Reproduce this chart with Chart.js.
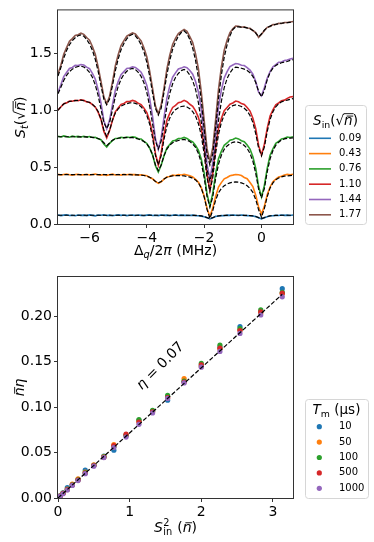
<!DOCTYPE html>
<html>
<head>
<meta charset="utf-8">
<script src="https://cdn.jsdelivr.net/npm/chart.js@4.4.0/dist/chart.umd.min.js"></script>
<style>
  html, body { margin: 0; padding: 0; background: #fff; }
  #top { position: absolute; left: 0; top: 0; }
  #bottom { position: absolute; left: 0; top: 262px; }
</style>
</head>
<body>
<canvas id="top" width="374" height="262"></canvas>
<canvas id="bottom" width="374" height="280"></canvas>
<script>
// ---- top panel: transmitted signal vs qubit detuning (MHz) ----
const detuning = [-7.1, -7.0, -6.9, -6.8, -6.7, -6.6, -6.5, -6.4, -6.3,
  -6.2, -6.1, -6.0, -5.9, -5.8, -5.7, -5.6, -5.5, -5.4, -5.3, -5.2, -5.1, -5.0, -4.9, -4.8, -4.7, -4.6, -4.5,
  -4.4, -4.3, -4.2, -4.1, -4.0, -3.9, -3.8, -3.7, -3.6, -3.5, -3.4, -3.3, -3.2, -3.1, -3.0, -2.9, -2.8, -2.7,
  -2.6, -2.5, -2.4, -2.3, -2.2, -2.1, -2.0, -1.9, -1.8, -1.7, -1.6, -1.5, -1.4, -1.3, -1.2, -1.1, -1.0, -0.9,
  -0.8, -0.7, -0.6, -0.5, -0.4, -0.3, -0.2, -0.1, 0.0, 0.1, 0.2, 0.3, 0.4, 0.5, 0.6, 0.7, 0.8, 0.9,
  1.0, 1.1];

const sinLabels = ['0.09', '0.43', '0.76', '1.10', '1.44', '1.77'];

// measured S_t
const st009 = [0.079, 0.074, 0.078, 0.081, 0.075, 0.077, 0.073, 0.079, 0.076,
  0.078, 0.074, 0.080, 0.076, 0.072, 0.079, 0.077, 0.081, 0.075, 0.078, 0.073, 0.077, 0.080, 0.076, 0.079, 0.074, 0.077, 0.078,
  0.075, 0.079, 0.076, 0.073, 0.078, 0.080, 0.075, 0.077, 0.074, 0.079, 0.076, 0.078, 0.073, 0.077, 0.080, 0.075, 0.078, 0.076,
  0.077, 0.075, 0.078, 0.074, 0.073, 0.069, 0.064, 0.056, 0.044, 0.054, 0.067, 0.070, 0.075, 0.073, 0.078, 0.076, 0.079, 0.077,
  0.075, 0.079, 0.076, 0.074, 0.072, 0.071, 0.065, 0.055, 0.046, 0.056, 0.064, 0.072, 0.073, 0.077, 0.075, 0.079, 0.076, 0.078,
  0.075, 0.079];
const st043 = [0.437, 0.431, 0.436, 0.440, 0.433, 0.429, 0.436, 0.438, 0.432,
  0.434, 0.438, 0.431, 0.436, 0.440, 0.433, 0.430, 0.435, 0.428, 0.434, 0.439, 0.432, 0.436, 0.430, 0.437, 0.433, 0.438, 0.435,
  0.436, 0.430, 0.433, 0.429, 0.424, 0.410, 0.398, 0.376, 0.358, 0.372, 0.394, 0.414, 0.418, 0.430, 0.427, 0.435, 0.431, 0.438,
  0.432, 0.425, 0.414, 0.394, 0.367, 0.320, 0.247, 0.136, 0.068, 0.140, 0.243, 0.325, 0.364, 0.398, 0.409, 0.425, 0.430, 0.436,
  0.433, 0.426, 0.410, 0.399, 0.366, 0.330, 0.254, 0.150, 0.088, 0.155, 0.258, 0.326, 0.372, 0.395, 0.414, 0.421, 0.432, 0.437,
  0.433, 0.438];
const st076 = [0.772, 0.766, 0.775, 0.769, 0.764, 0.773, 0.768, 0.771, 0.766,
  0.772, 0.765, 0.770, 0.762, 0.764, 0.750, 0.742, 0.705, 0.678, 0.710, 0.733, 0.753, 0.755, 0.763, 0.758, 0.766, 0.761, 0.767,
  0.763, 0.751, 0.748, 0.728, 0.709, 0.667, 0.609, 0.512, 0.458, 0.517, 0.601, 0.670, 0.700, 0.730, 0.737, 0.752, 0.753, 0.762,
  0.753, 0.735, 0.723, 0.691, 0.648, 0.571, 0.450, 0.265, 0.158, 0.270, 0.443, 0.574, 0.639, 0.693, 0.713, 0.737, 0.744, 0.757,
  0.749, 0.733, 0.724, 0.695, 0.659, 0.592, 0.490, 0.330, 0.238, 0.338, 0.489, 0.605, 0.662, 0.710, 0.727, 0.749, 0.754, 0.766,
  0.762, 0.768];
const st110 = [1.003, 1.030, 1.059, 1.066, 1.081, 1.080, 1.089, 1.085, 1.093,
  1.088, 1.074, 1.071, 1.050, 1.030, 0.984, 0.921, 0.815, 0.757, 0.822, 0.912, 0.987, 1.020, 1.053, 1.061, 1.077, 1.078, 1.088,
  1.080, 1.062, 1.051, 1.020, 0.981, 0.907, 0.794, 0.619, 0.518, 0.626, 0.788, 0.913, 0.975, 1.026, 1.045, 1.068, 1.074, 1.088,
  1.076, 1.054, 1.036, 0.996, 0.939, 0.839, 0.680, 0.438, 0.298, 0.444, 0.671, 0.841, 0.929, 0.997, 1.026, 1.055, 1.065, 1.082,
  1.076, 1.060, 1.052, 1.025, 0.994, 0.931, 0.839, 0.692, 0.608, 0.701, 0.842, 0.951, 1.004, 1.049, 1.065, 1.085, 1.090, 1.106,
  1.118, 1.121];
const st144 = [1.160, 1.226, 1.297, 1.333, 1.369, 1.378, 1.396, 1.394, 1.403,
  1.399, 1.381, 1.367, 1.325, 1.276, 1.183, 1.063, 0.909, 0.838, 0.915, 1.049, 1.177, 1.255, 1.315, 1.341, 1.368, 1.373, 1.383,
  1.378, 1.358, 1.336, 1.286, 1.220, 1.101, 0.945, 0.750, 0.658, 0.758, 0.939, 1.108, 1.214, 1.292, 1.330, 1.364, 1.372, 1.384,
  1.376, 1.351, 1.319, 1.254, 1.162, 1.003, 0.787, 0.525, 0.398, 0.535, 0.793, 1.027, 1.179, 1.286, 1.341, 1.386, 1.400, 1.412,
  1.409, 1.397, 1.395, 1.376, 1.354, 1.318, 1.255, 1.160, 1.128, 1.200, 1.283, 1.341, 1.384, 1.403, 1.423, 1.426, 1.438, 1.443,
  1.452, 1.458];
const st177 = [1.323, 1.398, 1.493, 1.553, 1.608, 1.632, 1.659, 1.666, 1.679,
  1.669, 1.641, 1.618, 1.561, 1.494, 1.383, 1.255, 1.119, 1.058, 1.125, 1.249, 1.392, 1.490, 1.571, 1.614, 1.653, 1.668, 1.683,
  1.672, 1.642, 1.612, 1.549, 1.470, 1.343, 1.193, 1.038, 0.968, 1.047, 1.196, 1.365, 1.485, 1.580, 1.633, 1.676, 1.696, 1.713,
  1.696, 1.649, 1.597, 1.498, 1.365, 1.162, 0.913, 0.663, 0.548, 0.672, 0.916, 1.184, 1.380, 1.529, 1.618, 1.684, 1.719, 1.742,
  1.741, 1.732, 1.736, 1.725, 1.723, 1.703, 1.685, 1.642, 1.671, 1.702, 1.731, 1.739, 1.755, 1.756, 1.767, 1.765, 1.774, 1.773,
  1.778, 1.782];

// model fits (dashed)
const fit009 = [0.077, 0.077, 0.077, 0.077, 0.077, 0.077, 0.077, 0.077, 0.077,
  0.077, 0.077, 0.077, 0.077, 0.077, 0.077, 0.077, 0.077, 0.077, 0.077, 0.077, 0.077, 0.077, 0.077, 0.077, 0.077, 0.077, 0.077,
  0.077, 0.077, 0.077, 0.077, 0.077, 0.077, 0.077, 0.077, 0.077, 0.077, 0.077, 0.077, 0.077, 0.077, 0.077, 0.077, 0.077, 0.077,
  0.077, 0.077, 0.076, 0.076, 0.074, 0.071, 0.066, 0.056, 0.047, 0.056, 0.066, 0.071, 0.074, 0.076, 0.076, 0.077, 0.077, 0.077,
  0.077, 0.077, 0.076, 0.076, 0.074, 0.071, 0.066, 0.056, 0.047, 0.056, 0.066, 0.071, 0.074, 0.076, 0.076, 0.077, 0.077, 0.077,
  0.077, 0.077];
const fit043 = [0.434, 0.434, 0.434, 0.434, 0.434, 0.434, 0.434, 0.434, 0.434,
  0.434, 0.434, 0.434, 0.434, 0.434, 0.434, 0.434, 0.434, 0.434, 0.434, 0.434, 0.434, 0.434, 0.434, 0.434, 0.434, 0.434, 0.433,
  0.433, 0.432, 0.430, 0.427, 0.421, 0.412, 0.396, 0.374, 0.362, 0.374, 0.396, 0.411, 0.419, 0.424, 0.426, 0.426, 0.425, 0.423,
  0.419, 0.413, 0.403, 0.388, 0.362, 0.316, 0.238, 0.130, 0.050, 0.118, 0.210, 0.275, 0.313, 0.336, 0.352, 0.362, 0.368, 0.370,
  0.368, 0.362, 0.352, 0.336, 0.313, 0.278, 0.215, 0.125, 0.060, 0.135, 0.240, 0.318, 0.362, 0.390, 0.405, 0.415, 0.421, 0.424,
  0.426, 0.428];
const fit076 = [0.768, 0.768, 0.768, 0.768, 0.768, 0.768, 0.768, 0.767, 0.767,
  0.766, 0.766, 0.764, 0.763, 0.759, 0.753, 0.741, 0.715, 0.690, 0.713, 0.738, 0.749, 0.755, 0.758, 0.760, 0.761, 0.761, 0.760,
  0.754, 0.748, 0.739, 0.726, 0.703, 0.669, 0.608, 0.522, 0.470, 0.520, 0.602, 0.660, 0.693, 0.715, 0.727, 0.735, 0.741, 0.744,
  0.737, 0.726, 0.705, 0.674, 0.620, 0.538, 0.409, 0.242, 0.150, 0.239, 0.401, 0.526, 0.605, 0.657, 0.687, 0.707, 0.719, 0.724,
  0.719, 0.709, 0.691, 0.666, 0.621, 0.553, 0.445, 0.307, 0.230, 0.311, 0.459, 0.573, 0.646, 0.693, 0.720, 0.739, 0.749, 0.753,
  0.756, 0.758];
const fit110 = [1.000, 1.033, 1.056, 1.069, 1.078, 1.083, 1.086, 1.088, 1.090,
  1.085, 1.078, 1.069, 1.055, 1.029, 0.991, 0.924, 0.828, 0.770, 0.824, 0.914, 0.977, 1.013, 1.037, 1.050, 1.059, 1.066, 1.068,
  1.062, 1.051, 1.032, 1.003, 0.954, 0.878, 0.759, 0.605, 0.520, 0.601, 0.747, 0.860, 0.932, 0.979, 1.006, 1.024, 1.034, 1.038,
  1.030, 1.015, 0.989, 0.950, 0.882, 0.779, 0.616, 0.406, 0.290, 0.408, 0.621, 0.787, 0.892, 0.960, 1.000, 1.026, 1.042, 1.048,
  1.043, 1.034, 1.018, 0.995, 0.955, 0.893, 0.795, 0.669, 0.600, 0.676, 0.814, 0.920, 0.988, 1.032, 1.058, 1.075, 1.085, 1.090,
  1.098, 1.104];
const fit144 = [1.147, 1.204, 1.263, 1.309, 1.341, 1.363, 1.377, 1.386, 1.390,
  1.382, 1.363, 1.335, 1.291, 1.225, 1.132, 1.011, 0.895, 0.840, 0.893, 1.004, 1.121, 1.211, 1.275, 1.317, 1.344, 1.362, 1.370,
  1.359, 1.335, 1.299, 1.242, 1.157, 1.036, 0.880, 0.731, 0.660, 0.730, 0.877, 1.031, 1.150, 1.234, 1.290, 1.325, 1.350, 1.360,
  1.345, 1.311, 1.262, 1.184, 1.066, 0.899, 0.684, 0.478, 0.380, 0.480, 0.690, 0.910, 1.080, 1.200, 1.280, 1.330, 1.365, 1.380,
  1.376, 1.371, 1.363, 1.351, 1.331, 1.299, 1.245, 1.167, 1.120, 1.176, 1.269, 1.334, 1.371, 1.396, 1.410, 1.419, 1.425, 1.430,
  1.440, 1.446];
const fit177 = [1.302, 1.377, 1.460, 1.527, 1.578, 1.614, 1.639, 1.657, 1.665,
  1.653, 1.625, 1.585, 1.530, 1.450, 1.345, 1.216, 1.099, 1.050, 1.100, 1.217, 1.348, 1.453, 1.534, 1.589, 1.630, 1.658, 1.670,
  1.656, 1.624, 1.578, 1.514, 1.422, 1.301, 1.152, 1.017, 0.960, 1.019, 1.160, 1.315, 1.441, 1.537, 1.604, 1.652, 1.685, 1.700,
  1.676, 1.623, 1.547, 1.440, 1.287, 1.086, 0.839, 0.614, 0.520, 0.617, 0.848, 1.103, 1.310, 1.468, 1.577, 1.656, 1.711, 1.735,
  1.735, 1.733, 1.730, 1.726, 1.718, 1.704, 1.680, 1.648, 1.672, 1.706, 1.728, 1.742, 1.751, 1.758, 1.763, 1.767, 1.770, 1.772,
  1.775, 1.778];

// ---- bottom panel: nbar*eta vs S_in^2 ----
const sinSquared = [0.01, 0.03, 0.07, 0.13, 0.20, 0.28, 0.38, 0.50, 0.64, 0.78,
  0.95, 1.13, 1.32, 1.53, 1.76, 2.00, 2.26, 2.54, 2.83, 3.13];
const tmLabels = ['10', '50', '100', '500', '1000'];
const neta10 = [0.0010, 0.0025, 0.0058, 0.0115, 0.0146, 0.0205, 0.0308, 0.0360, 0.0462, 0.0525,
  0.0685, 0.0855, 0.0955, 0.1075, 0.1280, 0.1455, 0.1655, 0.1885, 0.2045, 0.2302];
const neta50 = [0.0008, 0.0020, 0.0052, 0.0098, 0.0152, 0.0210, 0.0285, 0.0365, 0.0455, 0.0588,
  0.0690, 0.0845, 0.0950, 0.1100, 0.1312, 0.1445, 0.1640, 0.1850, 0.2035, 0.2245];
const neta100 = [0.0009, 0.0022, 0.0054, 0.0095, 0.0145, 0.0200, 0.0278, 0.0358, 0.0452, 0.0565,
  0.0695, 0.0862, 0.0965, 0.1128, 0.1285, 0.1480, 0.1680, 0.1862, 0.2068, 0.2262];
const neta500 = [0.0007, 0.0021, 0.0050, 0.0093, 0.0143, 0.0198, 0.0275, 0.0356, 0.0448, 0.0575,
  0.0702, 0.0835, 0.0948, 0.1105, 0.1275, 0.1465, 0.1648, 0.1842, 0.2048, 0.2252];
const neta1000 = [0.0006, 0.0019, 0.0047, 0.0088, 0.0138, 0.0192, 0.0268, 0.0350, 0.0444, 0.0555,
  0.0670, 0.0810, 0.0935, 0.1095, 0.1265, 0.1438, 0.1612, 0.1810, 0.2012, 0.2212];
const slopeX = [0, 3.13];
const slopeY = [0, 0.224];
const etaLabel = 'η = 0.07';

const colors = ['#1f77b4', '#ff7f0e', '#2ca02c', '#d62728', '#9467bd', '#8c564b'];
const FONT = '"DejaVu Sans", sans-serif';

// ---- mixed italic / subscript text on canvas ----
function partFont(p, size) {
  const s = (p.sub || p.sup) ? size * 0.7 : size;
  return (p.it ? 'italic ' : '') + s.toFixed(1) + 'px ' + FONT;
}
function partWidth(ctx, p, size) {
  if (p.ss) {
    ctx.font = partFont({ sub: true }, size);
    return Math.max(ctx.measureText(p.ss[0]).width, ctx.measureText(p.ss[1]).width) + 1;
  }
  ctx.font = partFont(p, size);
  return ctx.measureText(p.t).width;
}
function drawParts(ctx, parts, x, y, size, align) {
  let w = 0;
  parts.forEach(p => { w += partWidth(ctx, p, size); });
  let cx = align === 'center' ? x - w / 2 : x;
  ctx.textAlign = 'left';
  ctx.textBaseline = 'alphabetic';
  ctx.fillStyle = '#000';
  ctx.strokeStyle = '#000';
  parts.forEach(p => {
    const pw = partWidth(ctx, p, size);
    if (p.ss) {
      ctx.fillText(p.ss[0], cx + 0.5, y - size * 0.42);
      ctx.fillText(p.ss[1], cx + 0.5, y + size * 0.24);
    } else {
      const dy = p.sub ? size * 0.22 : p.sup ? -size * 0.42 : 0;
      ctx.fillText(p.t, cx, y + dy);
      ctx.lineWidth = 0.9;
      if (p.bar) {
        ctx.beginPath();
        ctx.moveTo(cx + pw * 0.3, y - size * 0.66);
        ctx.lineTo(cx + pw * 0.95 + 1, y - size * 0.66);
        ctx.stroke();
      }
      if (p.root) {
        ctx.beginPath();
        ctx.moveTo(cx - 0.5, y - size * 0.84);
        ctx.lineTo(cx + pw + 1, y - size * 0.84);
        ctx.stroke();
      }
    }
    cx += pw;
  });
}
function drawRotated(ctx, parts, x, y, size, angle) {
  ctx.save();
  ctx.translate(x, y);
  ctx.rotate(angle);
  drawParts(ctx, parts, 0, size * 0.35, size, 'center');
  ctx.restore();
}
const sqrtN = [{ t: '(' }, { t: '√' }, { t: 'n', it: true, bar: true, root: true }, { t: ')' }];

// box around the plot area, like the matplotlib spines
const framePlugin = {
  id: 'frame',
  afterDatasetsDraw(chart) {
    const { ctx, chartArea: a } = chart;
    ctx.save();
    ctx.strokeStyle = '#333';
    ctx.lineWidth = 1;
    ctx.strokeRect(a.left - 0.5, a.top - 0.5, a.right - a.left + 1, a.bottom - a.top + 1);
    ctx.restore();
  }
};

function legendBox(ctx, x0, y0, x1, y1) {
  ctx.save();
  ctx.beginPath();
  ctx.roundRect(x0 + 0.5, y0 + 0.5, x1 - x0, y1 - y0, 3);
  ctx.fillStyle = 'rgba(255,255,255,0.8)';
  ctx.fill();
  ctx.strokeStyle = '#d6d6d6';
  ctx.lineWidth = 1;
  ctx.stroke();
  ctx.restore();
}

function axisOpts(min, max, step, fmt, fitFn) {
  return {
    type: 'linear', min: min, max: max,
    afterFit: fitFn,
    border: { display: false },
    grid: { drawOnChartArea: false, drawTicks: true, tickLength: 4, color: '#333', tickColor: '#333' },
    ticks: {
      stepSize: step, includeBounds: false, maxRotation: 0, autoSkip: false,
      color: '#000', padding: 2, font: { family: FONT, size: 14 },
      callback: v => fmt(v)
    }
  };
}
const minus = s => s.replace('-', '\u2212');

// ---- top chart ----
const measured = [st009, st043, st076, st110, st144, st177];
const fits = [fit009, fit043, fit076, fit110, fit144, fit177];
const topSets = [];
measured.forEach((arr, i) => {
  topSets.push({
    label: sinLabels[i],
    data: detuning.map((x, k) => ({ x: x, y: arr[k] })),
    borderColor: colors[i], borderWidth: 1.6, pointRadius: 0, tension: 0,
    order: 20 - 2 * i
  });
  topSets.push({
    label: 'fit ' + sinLabels[i],
    data: detuning.map((x, k) => ({ x: x, y: fits[i][k] })),
    borderColor: '#000', borderWidth: 1.2, borderDash: [4.4, 2], pointRadius: 0, tension: 0,
    order: 19 - 2 * i
  });
});

const topText = {
  id: 'topText',
  afterDraw(chart) {
    const ctx = chart.ctx;
    const a = chart.chartArea;
    ctx.save();
    drawParts(ctx, [{ t: 'Δ' }, { t: 'q', it: true, sub: true }, { t: '/2' }, { t: 'π', it: true }, { t: ' (MHz)' }],
      (a.left + a.right) / 2, 255, 14, 'center');
    drawRotated(ctx, [{ t: 'S', it: true }, { t: 't', it: true, sub: true }].concat(sqrtN),
      20, (a.top + a.bottom) / 2, 14, -Math.PI / 2);
    // legend
    legendBox(ctx, 305, 105, 366, 224);
    drawParts(ctx, [{ t: 'S', it: true }, { t: 'in', sub: true }].concat(sqrtN), 335.5, 125, 13.5, 'center');
    sinLabels.forEach((lab, i) => {
      const y = 138.3 + i * 15.3;
      ctx.strokeStyle = colors[i];
      ctx.lineWidth = 1.6;
      ctx.beginPath();
      ctx.moveTo(309, y);
      ctx.lineTo(331, y);
      ctx.stroke();
      ctx.fillStyle = '#000';
      ctx.font = '10px ' + FONT;
      ctx.textBaseline = 'middle';
      ctx.textAlign = 'left';
      ctx.fillText(lab, 339, y);
    });
    ctx.restore();
  }
};

new Chart(document.getElementById('top'), {
  type: 'line',
  data: { datasets: topSets },
  options: {
    responsive: false, animation: false,
    layout: { padding: { left: 0, top: 4, right: 81, bottom: 0 } },
    plugins: { legend: { display: false }, tooltip: { enabled: false } },
    scales: {
      x: axisOpts(-7.1, 1.1, 2, v => minus(String(v)), s => { s.height = 38; }),
      y: axisOpts(0, 1.88, 0.5, v => v.toFixed(1), s => { s.width = 58; })
    }
  },
  plugins: [framePlugin, topText]
});

// ---- bottom chart ----
const netaSets = [neta10, neta50, neta100, neta500, neta1000];
const bottomSets = netaSets.map((arr, i) => ({
  type: 'scatter',
  label: tmLabels[i],
  data: sinSquared.map((x, k) => ({ x: x, y: arr[k] })),
  backgroundColor: colors[i], borderColor: colors[i],
  pointRadius: 2.6, pointBorderWidth: 0,
  order: 6 - i
}));
bottomSets.push({
  type: 'line',
  label: 'slope',
  data: slopeX.map((x, k) => ({ x: x, y: slopeY[k] })),
  borderColor: '#000', borderWidth: 1.2, borderDash: [4.4, 2], pointRadius: 0, tension: 0,
  order: 0
});

const bottomText = {
  id: 'bottomText',
  afterDraw(chart) {
    const ctx = chart.ctx;
    const a = chart.chartArea;
    ctx.save();
    drawParts(ctx, [{ t: 'S', it: true }, { ss: ['2', 'in'] }, { t: ' (' }, { t: 'n', it: true, bar: true }, { t: ')' }],
      (a.left + a.right) / 2, 270, 14, 'center');
    drawRotated(ctx, [{ t: 'n', it: true, bar: true }, { t: 'η', it: true }],
      19, (a.top + a.bottom) / 2, 14, -Math.PI / 2);
    // annotation along the fitted slope
    const px = chart.scales.x.getPixelForValue(1.42);
    const py = chart.scales.y.getPixelForValue(0.146);
    drawRotated(ctx, [{ t: 'η', it: true }, { t: etaLabel.slice(1) }], px, py, 14, -Math.PI / 4);
    // legend
    legendBox(ctx, 305, 137, 368, 236);
    drawParts(ctx, [{ t: 'T', it: true }, { t: 'm', sub: true }, { t: ' (μs)' }], 336.5, 152, 13.5, 'center');
    tmLabels.forEach((lab, i) => {
      const y = 164.7 + i * 15.4;
      ctx.fillStyle = colors[i];
      ctx.beginPath();
      ctx.arc(319.3, y, 2.6, 0, Math.PI * 2);
      ctx.fill();
      ctx.fillStyle = '#000';
      ctx.font = '10px ' + FONT;
      ctx.textBaseline = 'middle';
      ctx.textAlign = 'left';
      ctx.fillText(lab, 339, y);
    });
    ctx.restore();
  }
};

new Chart(document.getElementById('bottom'), {
  type: 'scatter',
  data: { datasets: bottomSets },
  options: {
    responsive: false, animation: false,
    layout: { padding: { left: 0, top: 15, right: 81, bottom: 0 } },
    plugins: { legend: { display: false }, tooltip: { enabled: false } },
    scales: {
      x: axisOpts(0, 3.28, 1, v => String(v), s => { s.height = 44; }),
      y: axisOpts(0, 0.243, 0.05, v => v.toFixed(2), s => { s.width = 58; })
    }
  },
  plugins: [framePlugin, bottomText]
});
</script>
</body>
</html>
